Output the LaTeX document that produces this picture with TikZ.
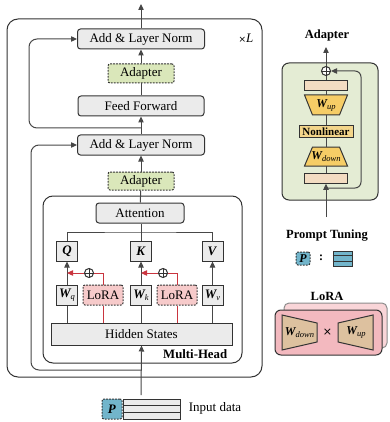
\documentclass[tikz,border=0pt]{standalone}
\usepackage{fontspec}
\setmainfont{Liberation Serif}
\newfontfamily\symf{DejaVu Sans}
\usetikzlibrary{arrows.meta}
\definecolor{ln}{HTML}{333333}
\definecolor{boxgray}{HTML}{EBEBEB}
\definecolor{adgreen}{HTML}{DAE7BA}
\definecolor{panelgreen}{HTML}{E4ECD4}
\definecolor{lorapink}{HTML}{F6CACA}
\definecolor{redln}{HTML}{C9353F}
\definecolor{pblue}{HTML}{72B5CB}
\definecolor{tanrect}{HTML}{F3DCC2}
\definecolor{gold}{HTML}{F6CD66}
\definecolor{nonlin}{HTML}{F3D58A}
\definecolor{tanlora}{HTML}{DDC19F}
\definecolor{pinkfront}{HTML}{F3B9BF}
\definecolor{pinkback}{HTML}{F9D5D8}
\newcommand{\Wsub}[1]{{\bfseries\itshape W}{\itshape\fontsize{8.5}{8.5}\selectfont\raisebox{-2pt}{#1}}}
\begin{document}
\begin{tikzpicture}[x=1pt,y=-1pt,line width=1pt,
  >={Triangle[length=6pt,width=5.4pt]},
  txt/.style={font=\fontsize{13}{15}\selectfont},
  box/.style={draw=ln,fill=boxgray,rounded corners=3pt,inner sep=0pt,txt},
  sq/.style={draw=ln,fill=boxgray,inner sep=0pt,minimum width=21pt,minimum height=20pt,txt},
  adbox/.style={draw=ln,fill=adgreen,rounded corners=2pt,dash pattern=on 1.8pt off 1.2pt,inner sep=0pt,minimum width=66pt,minimum height=19pt,txt},
  lorabox/.style={draw=ln,fill=lorapink,rounded corners=2pt,dash pattern=on 1.8pt off 1.2pt,inner sep=0pt,minimum width=40pt,minimum height=20pt,txt},
  container/.style={draw=ln,rounded corners=11pt,inner sep=0pt},
  conn/.style={draw=ln!90},
  redc/.style={draw=redln},
  plus/.style={circle,draw=ln,fill=white,minimum size=9pt,inner sep=0pt},
  title/.style={font=\fontsize{12.5}{14}\selectfont\bfseries},
  pbox/.style={draw=ln,fill=pblue,rounded corners=2pt,dash pattern=on 1.8pt off 1.2pt,inner sep=0pt},
]
\useasboundingbox (0,0) rectangle (389,422);

% ---------------- main encoder ----------------
\node[container,minimum width=255pt,minimum height=358pt] (outer) at (134.5,198) {};
\node[container,rounded corners=10pt,minimum width=199pt,minimum height=167pt] (mh) at (142.5,279.5) {};
\node[anchor=east,font=\fontsize{12.8}{14}\selectfont\bfseries] (mhl) at (231,354) {Multi-Head};
\node[txt,anchor=center] (xl) at (246,38) {{\symf\fontsize{9}{9}\selectfont ×}\textit{L}};

\node[box,minimum width=127pt,minimum height=20pt] (an1) at (141,39) {Add \& Layer Norm};
\node[adbox] (ad1) at (141,73.5) {Adapter};
\node[box,minimum width=126pt,minimum height=20pt] (ff) at (141,106) {Feed Forward};
\node[box,minimum width=127pt,minimum height=20pt] (an2) at (141,145) {Add \& Layer Norm};
\node[adbox,minimum height=18pt] (ad2) at (141,181) {Adapter};
\node[box,minimum width=88pt,minimum height=20pt] (att) at (140,213) {Attention};

\node[sq] (Q) at (67,251) {\textbf{\textit{Q}}};
\node[sq] (K) at (141,251) {\textbf{\textit{K}}};
\node[sq] (V) at (212.5,251) {\textbf{\textit{V}}};
\node[sq] (Wq) at (67,295) {\Wsub{q}};
\node[sq] (Wk) at (141,295) {\Wsub{k}};
\node[sq] (Wv) at (212.5,295) {\Wsub{v}};
\node[lorabox] (L1) at (103,295) {LoRA};
\node[lorabox] (L2) at (177,295) {LoRA};
\node[plus] (p1) at (89,273) {};
\node[plus] (p2) at (163,273) {};
\draw[draw=ln,line width=0.8pt] (p1.north)--(p1.south) (p1.west)--(p1.east);
\draw[draw=ln,line width=0.8pt] (p2.north)--(p2.south) (p2.west)--(p2.east);

\node[draw=ln,fill=boxgray,inner sep=0pt,minimum width=181pt,minimum height=22pt,txt] (hs) at (141.5,334) {Hidden States};

% connectors main
\coordinate (out) at (141,4);
\draw[conn,->] (an1.north) -- (out);
\draw[conn,->] (ad1) -- (an1);
\draw[conn] (ff) -- (ad1);
\draw[conn,->] (an2) -- (ff);
\draw[conn,->] (ad2) -- (an2);
\draw[conn] (att) -- (ad2);
\coordinate (j) at (141,232);
\draw[conn] (att.south -| K.north) -- (K.north);
\draw[conn] (Q.north) |- (j) -| (V.north);
\draw[conn,->] (Wq) -- (Q);
\draw[conn,->] (Wk) -- (K);
\draw[conn,->] (Wv) -- (V);
\draw[conn] (Wq.south) -- (Wq.south |- hs.north);
\draw[conn] (Wk.south) -- (Wk.south |- hs.north);
\draw[conn] (Wv.south) -- (Wv.south |- hs.north);
\draw[redc] (L1.south) -- (L1.south |- hs.north);
\draw[redc] (L2.south) -- (L2.south |- hs.north);
\draw[redc] (L1.north) |- (p1.east);
\draw[redc] (L2.north) |- (p2.east);
\draw[redc,->] (p1.west) -- (p1.west -| Wq.north);
\draw[redc,->] (p2.west) -- (p2.west -| Wk.north);

\coordinate (r1) at (141,128);
\draw[conn,->,rounded corners=8pt] (r1) -| (29,39) -- (an1.west);
\coordinate (r2) at (141,370);
\draw[conn,->,rounded corners=8pt] (r2) -| (31,145) -- (an2.west);
\coordinate (in) at (141,395);
\draw[conn,->] (in) -- (hs.south);

% input data
\node[pbox,minimum width=20pt,minimum height=20pt,txt] (P) at (112,409) {\textbf{\textit{P}}};
\node[draw=ln,fill=boxgray,inner sep=0pt,minimum width=57pt,minimum height=20pt] (inp) at (151.5,409) {};
\draw[draw=ln] ([yshift=-6.67pt]inp.north west) -- ([yshift=-6.67pt]inp.north east);
\draw[draw=ln] ([yshift=6.67pt]inp.south west) -- ([yshift=6.67pt]inp.south east);
\node[txt,anchor=west] (inl) at (185,408) {Input data};

% ---------------- Adapter detail ----------------
\node[title] (adt) at (327,35) {Adapter};
\node[draw=ln,fill=panelgreen,rounded corners=7pt,minimum width=96pt,minimum height=137pt] (panel) at (330,131.5) {};
\node[plus] (p3) at (326,71) {};
\draw[draw=ln,line width=0.8pt] (p3.north)--(p3.south) (p3.west)--(p3.east);
\node[draw=ln,fill=tanrect,inner sep=0pt,minimum width=43pt,minimum height=10pt] (tr) at (326,85.5) {};
\coordinate (wut) at (326,95);
\coordinate (wub) at (326,115);
\draw[draw=ln,fill=gold] (304.5,95) -- (347.5,95) -- (339.5,115) -- (312.5,115) -- cycle;
\node[font=\fontsize{12}{12}\selectfont] (wul) at (326,105) {\Wsub{up}};
\node[draw=ln,fill=nonlin,inner sep=0pt,minimum width=54pt,minimum height=12pt,font=\fontsize{11}{11}\selectfont\bfseries] (nl) at (326,132) {Nonlinear};
\coordinate (wdt) at (326,147);
\coordinate (wdb) at (326,166);
\draw[draw=ln,fill=gold] (312.5,147) -- (339.5,147) -- (347.5,166) -- (304.5,166) -- cycle;
\node[font=\fontsize{12}{12}\selectfont] (wdl) at (326,156.5) {\Wsub{down}};
\node[draw=ln,fill=tanrect,inner sep=0pt,minimum width=43pt,minimum height=9.5pt] (br) at (326,178.5) {};
\coordinate (aout) at (326,47);
\coordinate (ain) at (326,217);
\coordinate (rj) at (326,188);
\draw[conn,->] (p3) -- (aout);
\draw[conn] (tr) -- (p3);
\draw[conn] (wut) -- (tr);
\draw[conn] (nl) -- (wub);
\draw[conn] (wdt) -- (nl);
\draw[conn] (br) -- (wdb);
\draw[conn,->] (ain) -- (br.south);
\draw[conn,->,rounded corners=6pt] (rj) -| (361,71) -- (p3.east);

% ---------------- Prompt tuning ----------------
\node[title] (ptt) at (327,236) {Prompt Tuning};
\node[pbox,minimum width=14pt,minimum height=13pt,font=\fontsize{12}{12}\selectfont] (P2) at (303,258.5) {\textbf{\textit{P}}};
\node[font=\fontsize{12}{12}\selectfont\bfseries] (colon) at (321,258) {:};
\node[draw=ln,fill=pblue,inner sep=0pt,minimum width=19pt,minimum height=15pt] (stk) at (342.5,258.5) {};
\draw[draw=ln] ([yshift=-5pt]stk.north west) -- ([yshift=-5pt]stk.north east);
\draw[draw=ln] ([yshift=5pt]stk.south west) -- ([yshift=5pt]stk.south east);

% ---------------- LoRA ----------------
\node[title] (lt) at (327,296) {LoRA};
\node[draw=black!45,fill=pinkback,rounded corners=5pt,minimum width=103pt,minimum height=45pt] (lb) at (335.5,325.5) {};
\node[draw=ln,fill=pinkfront,rounded corners=6pt,minimum width=107pt,minimum height=45pt] (lf) at (328.5,332.5) {};
\draw[draw=ln,fill=tanlora] (282,315) -- (317,323) -- (317,342) -- (282,350) -- cycle;
\node[font=\fontsize{12}{12}\selectfont] (ldl) at (299.5,332.5) {\Wsub{down}};
\node[font=\symf\fontsize{11}{11}\selectfont] (tm) at (327.5,332.5) {×};
\draw[draw=ln,fill=tanlora] (338,323) -- (373,315) -- (373,350) -- (338,342) -- cycle;
\node[font=\fontsize{12}{12}\selectfont] (lul) at (356,332.5) {\Wsub{up}};
\end{tikzpicture}
\end{document}
